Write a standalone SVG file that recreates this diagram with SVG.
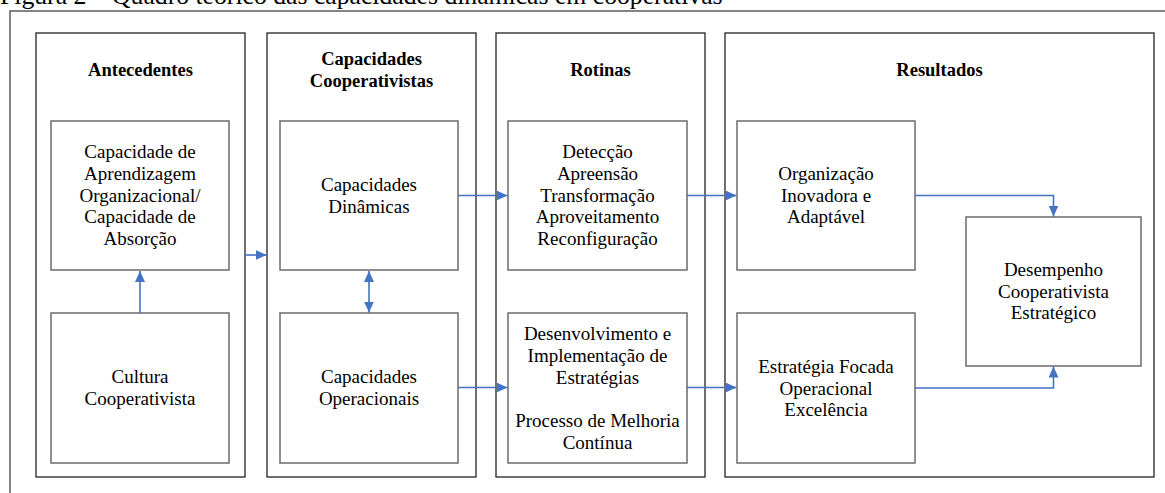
<svg xmlns="http://www.w3.org/2000/svg" width="1165" height="493" viewBox="0 0 1165 493">
  <style>
    text { font-family: "Liberation Serif", "Times New Roman", serif; fill: #000; text-anchor: middle; }
    .caption { font-size: 25.7px; text-anchor: start; }
    .head { font-size: 18.5px; font-weight: bold; }
    .body { font-size: 19px; }
    .frame { fill: none; stroke: #333; stroke-width: 1.2; }
    .col { fill: #fff; stroke: #222; stroke-width: 1.3; }
    .box { fill: #fff; stroke: #6b6b6b; stroke-width: 1.5; }
    .link { fill: none; stroke: #4472c4; stroke-width: 1.6; }
  </style>
  <defs>
    <marker id="tip" markerUnits="userSpaceOnUse" viewBox="0 0 11 10" refX="11" refY="5" markerWidth="11" markerHeight="10" orient="auto-start-reverse">
      <path d="M0,0 L11,5 L0,10 Z" fill="#4472c4"/>
    </marker>
  </defs>

  <!-- caption (top partially outside the page) -->
  <text class="caption" x="0" y="4">Figura 2 – Quadro teórico das capacidades dinâmicas em cooperativas</text>

  <!-- outer frame -->
  <rect class="frame" x="10" y="11" width="1170" height="500"/>

  <!-- columns -->
  <g id="col-antecedentes">
    <rect class="col" x="36" y="33" width="209" height="444"/>
    <text class="head" x="140.5" y="76">Antecedentes</text>
  </g>
  <g id="col-capacidades">
    <rect class="col" x="267" y="33" width="209" height="444"/>
    <text class="head" x="371.5" y="65">Capacidades</text>
    <text class="head" x="371.5" y="87">Cooperativistas</text>
  </g>
  <g id="col-rotinas">
    <rect class="col" x="496" y="33" width="209" height="444"/>
    <text class="head" x="600.5" y="76">Rotinas</text>
  </g>
  <g id="col-resultados">
    <rect class="col" x="725" y="33" width="429" height="444"/>
    <text class="head" x="939.5" y="76">Resultados</text>
  </g>

  <!-- inner nodes -->
  <g id="aprendizagem">
    <rect class="box" x="51" y="121" width="178" height="149"/>
    <text class="body" x="140" y="158">Capacidade de</text>
    <text class="body" x="140" y="180">Aprendizagem</text>
    <text class="body" x="140" y="201.5">Organizacional/</text>
    <text class="body" x="140" y="223">Capacidade de</text>
    <text class="body" x="140" y="245">Absorção</text>
  </g>
  <g id="cultura">
    <rect class="box" x="51" y="313" width="178" height="150"/>
    <text class="body" x="140" y="383">Cultura</text>
    <text class="body" x="140" y="405">Cooperativista</text>
  </g>
  <g id="dinamicas">
    <rect class="box" x="280" y="121" width="178" height="149"/>
    <text class="body" x="369" y="191">Capacidades</text>
    <text class="body" x="369" y="213">Dinâmicas</text>
  </g>
  <g id="operacionais">
    <rect class="box" x="280" y="313" width="178" height="150"/>
    <text class="body" x="369" y="383">Capacidades</text>
    <text class="body" x="369" y="405">Operacionais</text>
  </g>
  <g id="rotinas-dinamicas">
    <rect class="box" x="508" y="121" width="179" height="149"/>
    <text class="body" x="597.5" y="158">Detecção</text>
    <text class="body" x="597.5" y="180">Apreensão</text>
    <text class="body" x="597.5" y="201.5">Transformação</text>
    <text class="body" x="597.5" y="223">Aproveitamento</text>
    <text class="body" x="597.5" y="245">Reconfiguração</text>
  </g>
  <g id="rotinas-operacionais">
    <rect class="box" x="508" y="313" width="179" height="150"/>
    <text class="body" x="597.5" y="340">Desenvolvimento e</text>
    <text class="body" x="597.5" y="362">Implementação de</text>
    <text class="body" x="597.5" y="384">Estratégias</text>
    <text class="body" x="597.5" y="427">Processo de Melhoria</text>
    <text class="body" x="597.5" y="449">Contínua</text>
  </g>
  <g id="organizacao">
    <rect class="box" x="737" y="121" width="178" height="149"/>
    <text class="body" x="826" y="180">Organização</text>
    <text class="body" x="826" y="202">Inovadora e</text>
    <text class="body" x="826" y="223">Adaptável</text>
  </g>
  <g id="estrategia">
    <rect class="box" x="737" y="313" width="178" height="150"/>
    <text class="body" x="826" y="373">Estratégia Focada</text>
    <text class="body" x="826" y="394.5">Operacional</text>
    <text class="body" x="826" y="416">Excelência</text>
  </g>
  <g id="desempenho">
    <rect class="box" x="966" y="217" width="175" height="149"/>
    <text class="body" x="1053.5" y="276">Desempenho</text>
    <text class="body" x="1053.5" y="297.5">Cooperativista</text>
    <text class="body" x="1053.5" y="319">Estratégico</text>
  </g>

  <!-- connectors -->
  <g id="connectors">
    <path class="link" d="M140,313 V271" marker-end="url(#tip)"/>
    <path class="link" d="M245,255 H266.5" marker-end="url(#tip)"/>
    <path class="link" d="M369,271 V312.5" marker-start="url(#tip)" marker-end="url(#tip)"/>
    <path class="link" d="M458,195.5 H507.5" marker-end="url(#tip)"/>
    <path class="link" d="M687,195.5 H736.5" marker-end="url(#tip)"/>
    <path class="link" d="M458,387.5 H507.5" marker-end="url(#tip)"/>
    <path class="link" d="M687,387.5 H736.5" marker-end="url(#tip)"/>
    <path class="link" d="M915,195.5 H1053.5 V216.5" marker-end="url(#tip)"/>
    <path class="link" d="M915,388 H1053.5 V366.5" marker-end="url(#tip)"/>
  </g>
</svg>
